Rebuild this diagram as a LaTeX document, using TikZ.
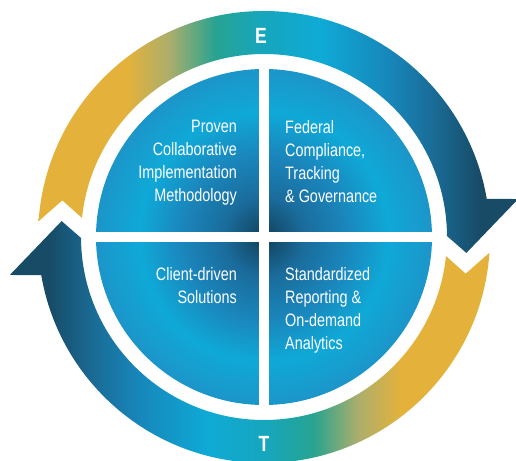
\documentclass[tikz,border=0pt]{standalone}
\usepackage{fontspec}
\setmainfont{Liberation Sans}[FakeStretch=0.8]
\usepackage{tikz}

\definecolor{ringgold}{HTML}{E4B23A}
\definecolor{ringolive}{HTML}{ABAE6C}
\definecolor{ringteal}{HTML}{27A391}
\definecolor{ringaqua}{HTML}{17A6BC}
\definecolor{ringcyan}{HTML}{0FAAD6}
\definecolor{ringblue}{HTML}{1786BA}
\definecolor{ringdeep}{HTML}{1A6E9A}
\definecolor{ringdark}{HTML}{174B66}

\definecolor{diskcore}{HTML}{12405A}
\definecolor{diskblue}{HTML}{1A6C9C}
\definecolor{diskmid}{HTML}{1A87BD}
\definecolor{diskcyan}{HTML}{0FA9D7}
\definecolor{diskrim}{HTML}{1C95C9}

\pgfdeclarehorizontalshading{ringtop}{100bp}{color(0bp)=(ringgold); color(37.2bp)=(ringgold); color(41.3bp)=(ringolive); color(45.7bp)=(ringteal); color(50bp)=(ringaqua); color(55.8bp)=(ringcyan); color(62.5bp)=(ringblue); color(66.3bp)=(ringdeep); color(71.2bp)=(ringdark); color(100bp)=(ringdark)}
\pgfdeclarehorizontalshading{ringbottom}{100bp}{color(0bp)=(ringdark); color(29.6bp)=(ringdark); color(34.4bp)=(ringdeep); color(38.3bp)=(ringblue); color(45bp)=(ringcyan); color(50.8bp)=(ringaqua); color(55.1bp)=(ringteal); color(59.4bp)=(ringolive); color(63.6bp)=(ringgold); color(100bp)=(ringgold)}
\pgfdeclareradialshading{quadfill}{\pgfpoint{0bp}{0bp}}{color(0bp)=(diskcore); color(6bp)=(diskblue); color(12.5bp)=(diskmid); color(18.5bp)=(diskcyan); color(25bp)=(diskrim); color(50bp)=(diskrim)}

\tikzset{
	arrowpath/.style={insert path={(176+#1:226) arc[start angle=176+#1, end angle=9.7+#1, radius=226] -- (8.5+#1:257) -- (-4.5+#1:203) -- (0.3+#1:183) arc[start angle=0.3+#1, end angle=174+#1, radius=183] -- (169.7+#1:205) -- cycle}},
	quadtext/.style={text=white, inner sep=0pt, font=\fontsize{18}{23}\selectfont},
	ringletter/.style={text=white, inner sep=0pt, font=\fontsize{22}{22}\selectfont\bfseries}
}

\begin{document}
\begin{tikzpicture}[x=1pt, y=1pt]

\useasboundingbox (-264,-223) rectangle (252,237);

% ring arrows, shaded across a fixed square
\begin{scope}
	\clip[arrowpath=0];
	\shade[shading=ringtop] (-264,-260) rectangle (256,260);
\end{scope}
\begin{scope}
	\clip[arrowpath=180];
	\shade[shading=ringbottom] (-264,-260) rectangle (256,260);
\end{scope}

\shade[shading=quadfill] (0,0) circle (168);

\fill[white] (-5,-173) rectangle (5,173);
\fill[white] (-173,-5) rectangle (173,5);

\node[ringletter] (letE) at (-3,201) {E};
\node[ringletter] (letT) at (0,-207) {T};

\node[quadtext, align=right, anchor=north east] (proven) at (-27,117) {Proven\\Collaborative\\Implementation\\Methodology};
\node[quadtext, align=left, anchor=north west] (federal) at (21,117) {Federal\\Compliance,\\Tracking\\\& Governance};
\node[quadtext, align=right, anchor=north east] (client) at (-27,-30) {Client-driven\\Solutions};
\node[quadtext, align=left, anchor=north west] (standard) at (21,-30) {Standardized\\Reporting \&\\On-demand\\Analytics};

\end{tikzpicture}
\end{document}
